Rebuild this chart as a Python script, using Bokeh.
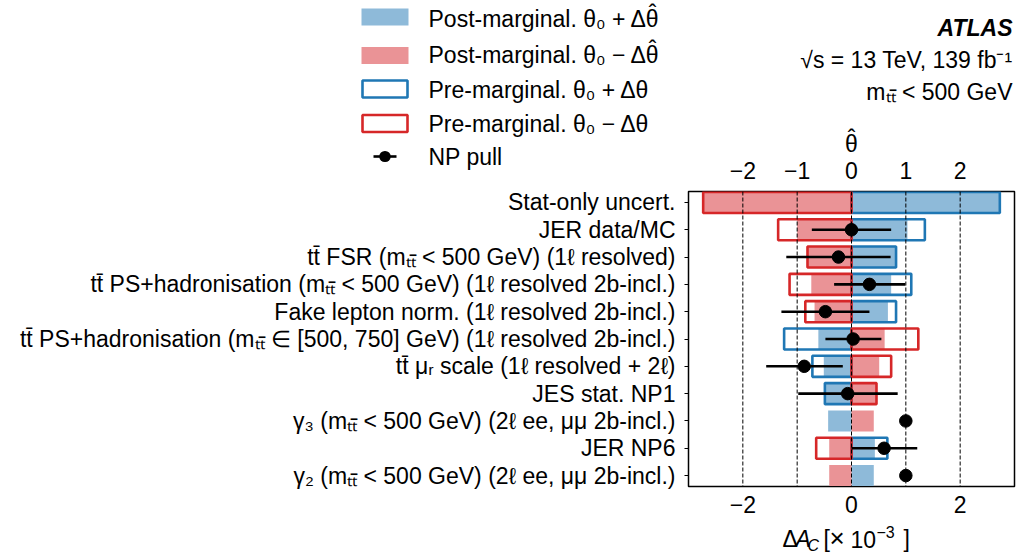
import numpy as np
from bokeh.plotting import figure
from bokeh.models import Range1d, LinearAxis, FixedTicker, Span, ColumnDataSource
from bokeh.core.properties import value
from bokeh.embed import file_html
from bokeh.resources import INLINE

nan = float("nan")

# ---------------- data ----------------
params = [
    "Stat-only uncert.",
    "JER data/MC",
    "tt\u0304 FSR (m\u209c\u209c\u0304 < 500 GeV) (1\u2113 resolved)",
    "tt\u0304 PS+hadronisation (m\u209c\u209c\u0304 < 500 GeV) (1\u2113 resolved 2b-incl.)",
    "Fake lepton norm. (1\u2113 resolved 2b-incl.)",
    "tt\u0304 PS+hadronisation (m\u209c\u209c\u0304 \u2208 [500, 750] GeV) (1\u2113 resolved 2b-incl.)",
    "tt\u0304 \u03bc\u1d63 scale (1\u2113 resolved + 2\u2113)",
    "JES stat. NP1",
    "\u03b3\u2083 (m\u209c\u209c\u0304 < 500 GeV) (2\u2113 ee, \u03bc\u03bc 2b-incl.)",
    "JER NP6",
    "\u03b3\u2082 (m\u209c\u209c\u0304 < 500 GeV) (2\u2113 ee, \u03bc\u03bc 2b-incl.)",
]
post_up   = [2.72, 1.03, 0.82, 0.73, 0.67, -0.61, -0.51, -0.49, -0.43, 0.43, 0.41]
post_down = [-2.72, -1.00, -0.81, -0.74, -0.68, 0.61, 0.51, 0.46, 0.41, -0.41, -0.41]
pre_up    = [2.73, 1.35, 0.82, 1.10, 0.82, -1.24, -0.72, -0.49, nan, 0.66, nan]
pre_down  = [-2.73, -1.35, -0.81, -1.14, -0.85, 1.23, 0.73, 0.46, nan, -0.65, nan]
pull      = [nan, 0.00, -0.24, 0.33, -0.48, 0.03, -0.87, -0.07, 1.00, 0.60, 1.00]
pull_lo   = [nan, -0.73, -1.20, -0.32, -1.29, -0.48, -1.57, -0.98, 1.00, 0.00, 1.00]
pull_hi   = [nan, 0.73, 0.72, 0.99, 0.33, 0.55, -0.16, 0.85, 1.00, 1.21, 1.00]
bottom_ticks = [-2, 0, 2]
top_ticks = [-2, -1, 0, 1, 2]

legend_labels = [
    "Post-marginal. \u03b8\u2080 + \u0394\u03b8",
    "Post-marginal. \u03b8\u2080 \u2212 \u0394\u03b8",
    "Pre-marginal. \u03b8\u2080 + \u0394\u03b8",
    "Pre-marginal. \u03b8\u2080 \u2212 \u0394\u03b8",
    "NP pull",
]
legend_hat = [True, True, False, False, False]

# ---------------- styling ----------------
FONT = "Liberation Sans"
FS = "23px"
BLUE_FILL = "#8ebad9"
RED_FILL = "#ea9396"
BLUE = "#1f77b4"
RED = "#d62728"
H = 0.77

n = len(params)
y = np.arange(n)

def span_cols(vals):
    v = np.array(vals, dtype=float)
    return np.minimum(0, v), np.maximum(0, v)

src = {}
for name, vals in [("pu", post_up), ("pd", post_down), ("ru", pre_up), ("rd", pre_down)]:
    lo, hi = span_cols(vals)
    src[name + "_l"] = lo
    src[name + "_r"] = hi
src["y"] = y
src["pull"] = np.array(pull, dtype=float)
src["plo"] = np.array(pull_lo, dtype=float)
src["phi"] = np.array(pull_hi, dtype=float)
source = ColumnDataSource(src)

W, HT = 1018, 555
FL, FR, FT, FB = 688, 4, 191, 69
YTOP, YBOT = -0.4, n - 0.6

p = figure(width=W, height=HT, output_backend="svg", toolbar_location=None,
           x_range=Range1d(-3, 3), y_range=Range1d(YBOT, YTOP),
           min_border_left=FL, min_border_right=FR, min_border_top=FT, min_border_bottom=FB)
p.grid.visible = False
p.outline_line_color = "black"
p.outline_line_width = 1.5
p.background_fill_color = "white"
p.border_fill_color = "white"

r_pu = p.hbar(y="y", left="pu_l", right="pu_r", height=H, source=source, fill_color=BLUE_FILL, line_color=None)
r_pd = p.hbar(y="y", left="pd_l", right="pd_r", height=H, source=source, fill_color=RED_FILL, line_color=None)
r_ru = p.hbar(y="y", left="ru_l", right="ru_r", height=H, source=source, fill_color=None, line_color=BLUE, line_width=2.6)
r_rd = p.hbar(y="y", left="rd_l", right="rd_r", height=H, source=source, fill_color=None, line_color=RED, line_width=2.6)

for t in top_ticks:
    p.add_layout(Span(location=t, dimension="height", line_color="black", line_width=1, line_dash="4 2"))

r_err = p.segment(x0="plo", y0="y", x1="phi", y1="y", source=source, line_color="black", line_width=2.6)
r_dot = p.scatter(x="pull", y="y", source=source, size=12.5, color="black")

# axes
def minus(t):
    return str(t).replace("-", "\u2212")

def style_axis(a, standoff):
    a.major_tick_out = 0
    a.major_tick_in = 0
    a.minor_tick_out = 0
    a.minor_tick_in = 0
    a.axis_line_color = None
    a.major_label_text_font = FONT
    a.major_label_text_font_size = FS
    a.major_label_text_color = "black"
    a.major_label_standoff = standoff

xa = p.xaxis[0]
xa.ticker = FixedTicker(ticks=bottom_ticks)
xa.major_label_overrides = {t: minus(t) for t in bottom_ticks}
style_axis(xa, 9)

ta = LinearAxis(ticker=FixedTicker(ticks=top_ticks))
ta.major_label_overrides = {t: minus(t) for t in top_ticks}
style_axis(ta, 13)
p.add_layout(ta, "above")

ya = p.yaxis[0]
ya.ticker = FixedTicker(ticks=list(range(n)))
ya.major_label_overrides = {i: params[i] for i in range(n)}
style_axis(ya, 9)
ya.major_tick_out = 4
ya.major_tick_line_color = "black"

# window px -> data helpers for text / legend placement (canvas origin = window origin)
X0, X1 = FL, W - FR
Y0, Y1 = FT, HT - FB
def X(px):
    return -3 + 6 * (px - X0) / (X1 - X0)
def Y(py):
    return YTOP + (py - Y0) / (Y1 - Y0) * (YBOT - YTOP)

def lab(txt, px, py, align="left", size=FS, style="normal", font=FONT):
    shift = -0.35 * float(size.replace("px", ""))
    p.text(x=[X(px)], y=[Y(py + shift)], text=[txt], text_align=align, text_baseline="alphabetic",
           text_font=value(font), text_font_size=value(size), text_font_style=style,
           text_color="black", level="overlay")

HAT = "\u02c6"

# top-right annotation
lab("ATLAS", 1012, 36, "right", style="bold italic")
lab("\u221as = 13 TeV, 139 fb\u207b\u00b9", 1012, 68, "right")
lab("m\u209c\u209c\u0304 < 500 GeV", 1012, 100, "right")

# top axis label  θ̂
lab("\u03b8", 851, 152, "center")
lab(HAT, 851, 146, "center")

# bottom axis label  ΔA_C [×10^-3]
lab("\u0394", 782, 547)
lab("A", 795, 547, style="italic")
lab("C", 807, 551, size="16px", style="italic")
lab("[", 823, 547)
lab("\u00d7", 829, 547, size="26px")
lab("10", 850, 547)
lab("\u22123", 876, 537, size="16px")
lab("]", 903, 547)

# legend (drawn by hand above the plot)
def swatch(cy, fill=None, line=None):
    p.rect(x=[X(384.5)], y=[Y(cy)], width=45 if line else 47, height=17,
           width_units="screen", height_units="screen",
           fill_color=fill, line_color=line, line_width=2.6 if line else 0, level="overlay")

swatch(16.5, fill=BLUE_FILL)
swatch(55, fill=RED_FILL)
swatch(88.5, line=BLUE)
swatch(123, line=RED)
p.segment(x0=[X(373)], y0=[Y(156)], x1=[X(396)], y1=[Y(156)], line_color="black", line_width=2.6, level="overlay")
p.segment(x0=[X(384.3)], y0=[Y(156)], x1=[X(384.7)], y1=[Y(156)], line_color="black", line_width=11,
          line_cap="round", level="overlay")
for txt, base, hat in zip(legend_labels, [26.5, 63, 97.5, 131.5, 165], legend_hat):
    lab(txt, 428, base)
    if hat:
        lab(HAT, 652, base - 6, "center")

open("out.html", "w").write(file_html(p, INLINE))
